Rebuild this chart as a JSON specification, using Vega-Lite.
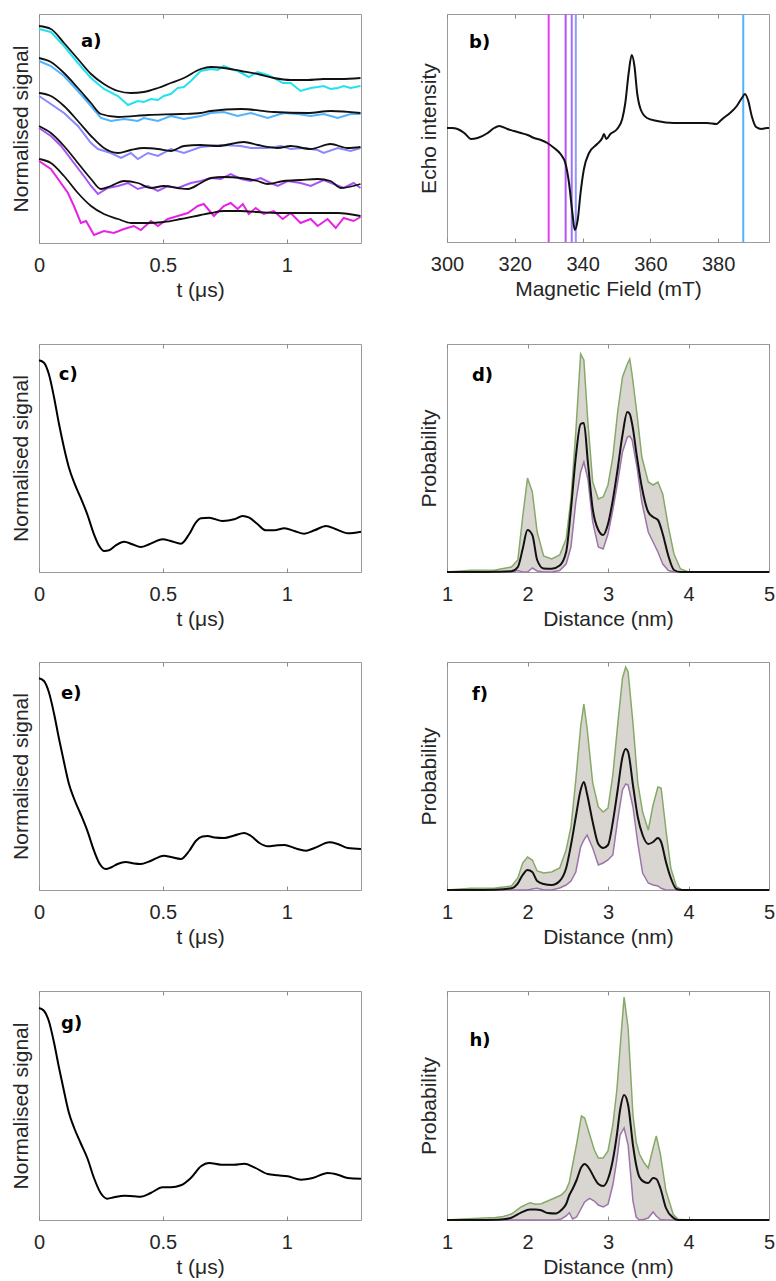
{
"$schema":"https://vega.github.io/schema/vega-lite/v6.json",
"padding":{"left":9,"top":12,"right":0,"bottom":0},
"spacing":42,
"datasets":{
"a_traces":[
{"trace":"1","t":0,"s":214},{"trace":"1","t":0.048,"s":211},{"trace":"1","t":0.101,"s":197},{"trace":"1","t":0.157,"s":180},{"trace":"1","t":0.21,"s":165},{"trace":"1","t":0.262,"s":154},{"trace":"1","t":0.319,"s":147},{"trace":"1","t":0.359,"s":138},{"trace":"1","t":0.399,"s":142},{"trace":"1","t":0.423,"s":141},{"trace":"1","t":0.452,"s":144},{"trace":"1","t":0.48,"s":143},{"trace":"1","t":0.504,"s":147},{"trace":"1","t":0.532,"s":149},{"trace":"1","t":0.56,"s":155},{"trace":"1","t":0.585,"s":156},{"trace":"1","t":0.613,"s":162},{"trace":"1","t":0.653,"s":172},{"trace":"1","t":0.694,"s":174},{"trace":"1","t":0.722,"s":173},{"trace":"1","t":0.746,"s":177},{"trace":"1","t":0.774,"s":174},{"trace":"1","t":0.802,"s":172},{"trace":"1","t":0.847,"s":166},{"trace":"1","t":0.883,"s":171},{"trace":"1","t":0.923,"s":168},{"trace":"1","t":0.948,"s":165},{"trace":"1","t":0.984,"s":160},{"trace":"1","t":1.016,"s":160},{"trace":"1","t":1.056,"s":152},{"trace":"1","t":1.097,"s":155},{"trace":"1","t":1.125,"s":156},{"trace":"1","t":1.149,"s":157},{"trace":"1","t":1.177,"s":154},{"trace":"1","t":1.206,"s":155},{"trace":"1","t":1.23,"s":157},{"trace":"1","t":1.258,"s":155},{"trace":"1","t":1.298,"s":157},
{"trace":"2","t":0,"s":182},{"trace":"2","t":0.048,"s":177},{"trace":"2","t":0.101,"s":167},{"trace":"2","t":0.157,"s":152},{"trace":"2","t":0.21,"s":137},{"trace":"2","t":0.25,"s":125},{"trace":"2","t":0.29,"s":122},{"trace":"2","t":0.343,"s":124},{"trace":"2","t":0.399,"s":122},{"trace":"2","t":0.423,"s":125},{"trace":"2","t":0.48,"s":122},{"trace":"2","t":0.532,"s":127},{"trace":"2","t":0.585,"s":124},{"trace":"2","t":0.653,"s":127},{"trace":"2","t":0.694,"s":130},{"trace":"2","t":0.746,"s":131},{"trace":"2","t":0.802,"s":127},{"trace":"2","t":0.855,"s":130},{"trace":"2","t":0.923,"s":125},{"trace":"2","t":0.988,"s":130},{"trace":"2","t":1.044,"s":129},{"trace":"2","t":1.097,"s":127},{"trace":"2","t":1.149,"s":129},{"trace":"2","t":1.206,"s":125},{"trace":"2","t":1.258,"s":129},{"trace":"2","t":1.298,"s":129},
{"trace":"3","t":0,"s":147},{"trace":"3","t":0.048,"s":139},{"trace":"3","t":0.101,"s":130},{"trace":"3","t":0.157,"s":117},{"trace":"3","t":0.21,"s":100},{"trace":"3","t":0.238,"s":94},{"trace":"3","t":0.29,"s":90},{"trace":"3","t":0.331,"s":85},{"trace":"3","t":0.371,"s":90},{"trace":"3","t":0.399,"s":84},{"trace":"3","t":0.44,"s":90},{"trace":"3","t":0.48,"s":87},{"trace":"3","t":0.532,"s":94},{"trace":"3","t":0.585,"s":90},{"trace":"3","t":0.653,"s":96},{"trace":"3","t":0.694,"s":97},{"trace":"3","t":0.746,"s":98},{"trace":"3","t":0.815,"s":97},{"trace":"3","t":0.855,"s":95},{"trace":"3","t":0.923,"s":95},{"trace":"3","t":0.976,"s":97},{"trace":"3","t":1.016,"s":94},{"trace":"3","t":1.069,"s":95},{"trace":"3","t":1.125,"s":93},{"trace":"3","t":1.149,"s":90},{"trace":"3","t":1.206,"s":95},{"trace":"3","t":1.258,"s":92},{"trace":"3","t":1.298,"s":95},
{"trace":"4","t":0,"s":115},{"trace":"4","t":0.048,"s":107},{"trace":"4","t":0.089,"s":97},{"trace":"4","t":0.141,"s":80},{"trace":"4","t":0.181,"s":67},{"trace":"4","t":0.21,"s":57},{"trace":"4","t":0.238,"s":49},{"trace":"4","t":0.278,"s":55},{"trace":"4","t":0.319,"s":57},{"trace":"4","t":0.359,"s":60},{"trace":"4","t":0.399,"s":54},{"trace":"4","t":0.44,"s":57},{"trace":"4","t":0.48,"s":52},{"trace":"4","t":0.52,"s":57},{"trace":"4","t":0.56,"s":55},{"trace":"4","t":0.613,"s":60},{"trace":"4","t":0.653,"s":62},{"trace":"4","t":0.694,"s":65},{"trace":"4","t":0.734,"s":64},{"trace":"4","t":0.774,"s":69},{"trace":"4","t":0.815,"s":64},{"trace":"4","t":0.855,"s":62},{"trace":"4","t":0.895,"s":65},{"trace":"4","t":0.935,"s":60},{"trace":"4","t":0.964,"s":57},{"trace":"4","t":1.004,"s":62},{"trace":"4","t":1.056,"s":60},{"trace":"4","t":1.097,"s":57},{"trace":"4","t":1.149,"s":63},{"trace":"4","t":1.19,"s":59},{"trace":"4","t":1.23,"s":55},{"trace":"4","t":1.27,"s":60},{"trace":"4","t":1.298,"s":55},
{"trace":"5","t":0,"s":82},{"trace":"5","t":0.048,"s":74},{"trace":"5","t":0.077,"s":64},{"trace":"5","t":0.117,"s":50},{"trace":"5","t":0.141,"s":37},{"trace":"5","t":0.169,"s":20},{"trace":"5","t":0.19,"s":22},{"trace":"5","t":0.222,"s":8},{"trace":"5","t":0.262,"s":12},{"trace":"5","t":0.302,"s":10},{"trace":"5","t":0.343,"s":14},{"trace":"5","t":0.383,"s":17},{"trace":"5","t":0.411,"s":13},{"trace":"5","t":0.452,"s":22},{"trace":"5","t":0.48,"s":17},{"trace":"5","t":0.52,"s":24},{"trace":"5","t":0.56,"s":27},{"trace":"5","t":0.601,"s":30},{"trace":"5","t":0.641,"s":37},{"trace":"5","t":0.665,"s":39},{"trace":"5","t":0.706,"s":27},{"trace":"5","t":0.746,"s":37},{"trace":"5","t":0.774,"s":40},{"trace":"5","t":0.802,"s":34},{"trace":"5","t":0.823,"s":39},{"trace":"5","t":0.847,"s":29},{"trace":"5","t":0.875,"s":35},{"trace":"5","t":0.907,"s":29},{"trace":"5","t":0.948,"s":32},{"trace":"5","t":0.984,"s":24},{"trace":"5","t":1.016,"s":30},{"trace":"5","t":1.056,"s":20},{"trace":"5","t":1.097,"s":24},{"trace":"5","t":1.125,"s":17},{"trace":"5","t":1.165,"s":24},{"trace":"5","t":1.198,"s":15},{"trace":"5","t":1.23,"s":25},{"trace":"5","t":1.27,"s":22},{"trace":"5","t":1.298,"s":26}
],
"a_fits":[
{"trace":"1","t":0,"s":217},{"trace":"1","t":0.048,"s":214},{"trace":"1","t":0.101,"s":200},{"trace":"1","t":0.157,"s":184},{"trace":"1","t":0.21,"s":169},{"trace":"1","t":0.262,"s":159},{"trace":"1","t":0.319,"s":152},{"trace":"1","t":0.371,"s":150},{"trace":"1","t":0.423,"s":151},{"trace":"1","t":0.48,"s":155},{"trace":"1","t":0.532,"s":160},{"trace":"1","t":0.585,"s":165},{"trace":"1","t":0.653,"s":174},{"trace":"1","t":0.694,"s":176},{"trace":"1","t":0.746,"s":175},{"trace":"1","t":0.815,"s":172},{"trace":"1","t":0.883,"s":169},{"trace":"1","t":0.948,"s":165},{"trace":"1","t":1.016,"s":163},{"trace":"1","t":1.085,"s":163},{"trace":"1","t":1.149,"s":164},{"trace":"1","t":1.218,"s":164},{"trace":"1","t":1.298,"s":165},
{"trace":"2","t":0,"s":185},{"trace":"2","t":0.048,"s":181},{"trace":"2","t":0.101,"s":170},{"trace":"2","t":0.157,"s":155},{"trace":"2","t":0.21,"s":140},{"trace":"2","t":0.25,"s":129},{"trace":"2","t":0.319,"s":126},{"trace":"2","t":0.44,"s":128},{"trace":"2","t":0.573,"s":129},{"trace":"2","t":0.653,"s":130},{"trace":"2","t":0.694,"s":132},{"trace":"2","t":0.815,"s":134},{"trace":"2","t":0.948,"s":131},{"trace":"2","t":1.085,"s":130},{"trace":"2","t":1.177,"s":132},{"trace":"2","t":1.298,"s":130},
{"trace":"3","t":0,"s":150},{"trace":"3","t":0.048,"s":147},{"trace":"3","t":0.101,"s":137},{"trace":"3","t":0.157,"s":122},{"trace":"3","t":0.21,"s":107},{"trace":"3","t":0.262,"s":95},{"trace":"3","t":0.319,"s":90},{"trace":"3","t":0.371,"s":93},{"trace":"3","t":0.423,"s":95},{"trace":"3","t":0.48,"s":94},{"trace":"3","t":0.532,"s":92},{"trace":"3","t":0.585,"s":97},{"trace":"3","t":0.653,"s":98},{"trace":"3","t":0.722,"s":97},{"trace":"3","t":0.827,"s":101},{"trace":"3","t":0.883,"s":98},{"trace":"3","t":0.964,"s":95},{"trace":"3","t":1.016,"s":97},{"trace":"3","t":1.097,"s":94},{"trace":"3","t":1.177,"s":99},{"trace":"3","t":1.246,"s":95},{"trace":"3","t":1.298,"s":96},
{"trace":"4","t":0,"s":117},{"trace":"4","t":0.048,"s":110},{"trace":"4","t":0.101,"s":97},{"trace":"4","t":0.157,"s":80},{"trace":"4","t":0.21,"s":64},{"trace":"4","t":0.25,"s":54},{"trace":"4","t":0.29,"s":57},{"trace":"4","t":0.343,"s":62},{"trace":"4","t":0.399,"s":60},{"trace":"4","t":0.452,"s":55},{"trace":"4","t":0.504,"s":57},{"trace":"4","t":0.56,"s":55},{"trace":"4","t":0.601,"s":54},{"trace":"4","t":0.653,"s":60},{"trace":"4","t":0.694,"s":65},{"trace":"4","t":0.746,"s":66},{"trace":"4","t":0.815,"s":65},{"trace":"4","t":0.883,"s":62},{"trace":"4","t":0.923,"s":59},{"trace":"4","t":0.988,"s":62},{"trace":"4","t":1.056,"s":63},{"trace":"4","t":1.125,"s":64},{"trace":"4","t":1.177,"s":62},{"trace":"4","t":1.218,"s":55},{"trace":"4","t":1.298,"s":59},
{"trace":"5","t":0,"s":84},{"trace":"5","t":0.048,"s":80},{"trace":"5","t":0.101,"s":67},{"trace":"5","t":0.157,"s":50},{"trace":"5","t":0.21,"s":37},{"trace":"5","t":0.262,"s":29},{"trace":"5","t":0.319,"s":24},{"trace":"5","t":0.371,"s":20},{"trace":"5","t":0.44,"s":20},{"trace":"5","t":0.504,"s":21},{"trace":"5","t":0.573,"s":24},{"trace":"5","t":0.653,"s":28},{"trace":"5","t":0.694,"s":30},{"trace":"5","t":0.746,"s":32},{"trace":"5","t":0.815,"s":32},{"trace":"5","t":0.883,"s":31},{"trace":"5","t":0.964,"s":30},{"trace":"5","t":1.044,"s":30},{"trace":"5","t":1.125,"s":30},{"trace":"5","t":1.206,"s":30},{"trace":"5","t":1.298,"s":27}
],
"b_spec":[
{"B":300,"v":114},{"B":301.5,"v":114},{"B":303.1,"v":113},{"B":305.1,"v":109},{"B":307.1,"v":103},{"B":309,"v":104},{"B":312,"v":109},{"B":313.9,"v":114},{"B":315.4,"v":116},{"B":317.8,"v":113},{"B":319.8,"v":111},{"B":321.8,"v":109},{"B":323.8,"v":107},{"B":325.7,"v":104},{"B":327.7,"v":102},{"B":329.6,"v":99},{"B":331.6,"v":94},{"B":333.5,"v":88},{"B":335,"v":78},{"B":336,"v":59},{"B":337,"v":29},{"B":337.7,"v":12},{"B":338.6,"v":23},{"B":339.4,"v":49},{"B":340.4,"v":73},{"B":341.9,"v":89},{"B":344.3,"v":98},{"B":345.8,"v":104},{"B":346.3,"v":108},{"B":347,"v":103},{"B":348.2,"v":108},{"B":350.2,"v":113},{"B":351.7,"v":123},{"B":352.6,"v":139},{"B":353.6,"v":169},{"B":354.5,"v":187},{"B":355.3,"v":176},{"B":356.1,"v":149},{"B":357.1,"v":133},{"B":359,"v":124},{"B":362,"v":121},{"B":366.9,"v":119},{"B":371.8,"v":119},{"B":376.7,"v":119},{"B":379.6,"v":118},{"B":380.6,"v":121},{"B":381.6,"v":124},{"B":383.5,"v":129},{"B":385.5,"v":136},{"B":387,"v":144},{"B":387.9,"v":148},{"B":388.9,"v":141},{"B":389.9,"v":126},{"B":391.2,"v":115},{"B":392.8,"v":113},{"B":394.3,"v":114},{"B":395,"v":114}
],
"b_lines":[
{"B":330,"id":"L1"},{"B":335,"id":"L2"},{"B":336.8,"id":"L3"},{"B":338,"id":"L4"},{"B":387.4,"id":"L5"}
],
"c":[
{"t":0,"s":211.7},{"t":0.02,"s":209.3},{"t":0.04,"s":197.7},{"t":0.061,"s":174.3},{"t":0.081,"s":147.7},{"t":0.101,"s":124.3},{"t":0.121,"s":104.3},{"t":0.142,"s":89.3},{"t":0.168,"s":74.3},{"t":0.195,"s":57.7},{"t":0.222,"s":37.7},{"t":0.243,"s":26},{"t":0.263,"s":21},{"t":0.283,"s":21.7},{"t":0.31,"s":26.7},{"t":0.344,"s":30.3},{"t":0.377,"s":27.7},{"t":0.411,"s":25},{"t":0.445,"s":27.7},{"t":0.499,"s":32.7},{"t":0.532,"s":31},{"t":0.573,"s":28.3},{"t":0.606,"s":37.7},{"t":0.633,"s":49.3},{"t":0.654,"s":53.7},{"t":0.687,"s":54.3},{"t":0.741,"s":51},{"t":0.788,"s":52.7},{"t":0.822,"s":56},{"t":0.849,"s":54.3},{"t":0.883,"s":47.7},{"t":0.916,"s":41.7},{"t":0.95,"s":41.7},{"t":0.991,"s":43.7},{"t":1.031,"s":41},{"t":1.071,"s":38.3},{"t":1.112,"s":41.7},{"t":1.159,"s":46},{"t":1.199,"s":42.7},{"t":1.247,"s":38.7},{"t":1.3,"s":40.3}
],
"e":[
{"t":0,"s":211.7},{"t":0.02,"s":209},{"t":0.04,"s":197.7},{"t":0.061,"s":176},{"t":0.081,"s":151},{"t":0.101,"s":127.7},{"t":0.121,"s":106},{"t":0.142,"s":91},{"t":0.168,"s":76},{"t":0.195,"s":59.3},{"t":0.222,"s":39.3},{"t":0.243,"s":27},{"t":0.27,"s":21},{"t":0.29,"s":22.5},{"t":0.317,"s":26},{"t":0.35,"s":28},{"t":0.384,"s":26.5},{"t":0.411,"s":26},{"t":0.445,"s":28.5},{"t":0.505,"s":34.3},{"t":0.532,"s":33},{"t":0.573,"s":31},{"t":0.606,"s":39},{"t":0.633,"s":49},{"t":0.66,"s":53.5},{"t":0.681,"s":54},{"t":0.708,"s":52.5},{"t":0.748,"s":52},{"t":0.788,"s":54.5},{"t":0.829,"s":57},{"t":0.856,"s":54},{"t":0.89,"s":47},{"t":0.923,"s":43.7},{"t":0.964,"s":44.7},{"t":0.991,"s":45},{"t":1.031,"s":42},{"t":1.078,"s":39.3},{"t":1.112,"s":42},{"t":1.173,"s":47.7},{"t":1.206,"s":46},{"t":1.247,"s":42},{"t":1.3,"s":41}
],
"g":[
{"t":0,"s":212},{"t":0.02,"s":209.3},{"t":0.04,"s":198.7},{"t":0.061,"s":177},{"t":0.081,"s":152},{"t":0.101,"s":128.7},{"t":0.121,"s":107},{"t":0.142,"s":92},{"t":0.168,"s":77},{"t":0.195,"s":62},{"t":0.222,"s":42},{"t":0.249,"s":27},{"t":0.276,"s":21.3},{"t":0.303,"s":22.7},{"t":0.344,"s":24.3},{"t":0.384,"s":23.7},{"t":0.411,"s":23.3},{"t":0.451,"s":27},{"t":0.499,"s":32.7},{"t":0.532,"s":32.7},{"t":0.573,"s":34.7},{"t":0.613,"s":42},{"t":0.654,"s":53.7},{"t":0.687,"s":57},{"t":0.735,"s":55.3},{"t":0.788,"s":55.3},{"t":0.829,"s":56.3},{"t":0.869,"s":52.7},{"t":0.923,"s":46},{"t":0.964,"s":44.7},{"t":1.004,"s":43.7},{"t":1.058,"s":40.3},{"t":1.105,"s":42},{"t":1.166,"s":47},{"t":1.206,"s":45.3},{"t":1.247,"s":42},{"t":1.3,"s":41.3}
],
"d":[
{"r":1.0,"hi":0,"m":0,"lo":0},{"r":1.3,"hi":1.7,"m":0,"lo":0},{"r":1.6,"hi":2,"m":0.3,"lo":0},{"r":1.8,"hi":5,"m":0.7,"lo":0},{"r":1.88,"hi":12,"m":5,"lo":1.5},{"r":1.94,"hi":55,"m":23,"lo":0},{"r":2.0,"hi":94,"m":42,"lo":0},{"r":2.06,"hi":80,"m":37,"lo":4},{"r":2.12,"hi":40,"m":12,"lo":1},{"r":2.2,"hi":16,"m":3.5,"lo":0},{"r":2.3,"hi":13,"m":3.3,"lo":0},{"r":2.4,"hi":17,"m":6.5,"lo":1.5},{"r":2.48,"hi":33,"m":20,"lo":8},{"r":2.54,"hi":73,"m":63,"lo":25},{"r":2.6,"hi":140,"m":115,"lo":70},{"r":2.66,"hi":218,"m":148,"lo":100},{"r":2.7,"hi":212,"m":149,"lo":110},{"r":2.75,"hi":150,"m":110,"lo":93},{"r":2.81,"hi":90,"m":63,"lo":50},{"r":2.88,"hi":73,"m":42,"lo":25},{"r":2.94,"hi":75,"m":37,"lo":23},{"r":3.0,"hi":87,"m":48,"lo":38},{"r":3.06,"hi":115,"m":72,"lo":62},{"r":3.12,"hi":160,"m":103,"lo":90},{"r":3.18,"hi":195,"m":137,"lo":120},{"r":3.24,"hi":208,"m":160,"lo":135},{"r":3.27,"hi":213,"m":158,"lo":136},{"r":3.3,"hi":197,"m":148,"lo":132},{"r":3.36,"hi":158,"m":115,"lo":105},{"r":3.42,"hi":115,"m":85,"lo":70},{"r":3.5,"hi":90,"m":60,"lo":40},{"r":3.56,"hi":87,"m":55,"lo":30},{"r":3.62,"hi":90,"m":52,"lo":20},{"r":3.68,"hi":78,"m":38,"lo":8},{"r":3.75,"hi":45,"m":16,"lo":1.5},{"r":3.82,"hi":18,"m":2,"lo":0},{"r":3.9,"hi":3,"m":0,"lo":0},{"r":4.0,"hi":0,"m":0,"lo":0},{"r":5.0,"hi":0,"m":0,"lo":0}
],
"f":[
{"r":1.0,"hi":0,"m":0,"lo":0},{"r":1.3,"hi":1.7,"m":0,"lo":0},{"r":1.6,"hi":2,"m":0.3,"lo":0},{"r":1.8,"hi":4,"m":1.7,"lo":0},{"r":1.88,"hi":12,"m":6.7,"lo":0},{"r":1.94,"hi":27,"m":15,"lo":0},{"r":2.0,"hi":33,"m":20,"lo":0},{"r":2.06,"hi":30,"m":18,"lo":1},{"r":2.12,"hi":19,"m":9,"lo":1.7},{"r":2.2,"hi":17,"m":6,"lo":0},{"r":2.3,"hi":18,"m":5,"lo":0},{"r":2.4,"hi":22,"m":9,"lo":2},{"r":2.48,"hi":40,"m":22,"lo":5},{"r":2.54,"hi":63,"m":45,"lo":9},{"r":2.6,"hi":110,"m":73,"lo":18},{"r":2.66,"hi":163,"m":100,"lo":43},{"r":2.7,"hi":186,"m":108,"lo":50},{"r":2.74,"hi":162,"m":96,"lo":55},{"r":2.81,"hi":107,"m":68,"lo":42},{"r":2.88,"hi":83,"m":46,"lo":25},{"r":2.94,"hi":78,"m":42,"lo":27},{"r":3.0,"hi":82,"m":45,"lo":30},{"r":3.06,"hi":115,"m":68,"lo":35},{"r":3.12,"hi":165,"m":100,"lo":70},{"r":3.18,"hi":212,"m":133,"lo":100},{"r":3.22,"hi":223,"m":141,"lo":106},{"r":3.25,"hi":218,"m":138,"lo":105},{"r":3.31,"hi":167,"m":105,"lo":83},{"r":3.37,"hi":107,"m":73,"lo":47},{"r":3.43,"hi":78,"m":55,"lo":17},{"r":3.5,"hi":60,"m":46,"lo":7},{"r":3.56,"hi":85,"m":48,"lo":5},{"r":3.62,"hi":103,"m":52,"lo":4},{"r":3.66,"hi":102,"m":48,"lo":1.7},{"r":3.72,"hi":60,"m":28,"lo":0},{"r":3.78,"hi":22,"m":12,"lo":0},{"r":3.85,"hi":3.3,"m":1,"lo":0},{"r":3.92,"hi":0,"m":0,"lo":0},{"r":5.0,"hi":0,"m":0,"lo":0}
],
"h":[
{"r":1.0,"hi":0,"m":0,"lo":0},{"r":1.2,"hi":1,"m":0,"lo":0},{"r":1.4,"hi":1.7,"m":0,"lo":0},{"r":1.6,"hi":2.5,"m":0.3,"lo":0},{"r":1.7,"hi":3.5,"m":0.7,"lo":0},{"r":1.8,"hi":6,"m":2.3,"lo":0},{"r":1.92,"hi":13,"m":7.3,"lo":0},{"r":2.03,"hi":17.3,"m":10.5,"lo":0},{"r":2.1,"hi":15.7,"m":10.5,"lo":0},{"r":2.17,"hi":16.3,"m":9.7,"lo":0},{"r":2.25,"hi":19,"m":7,"lo":0},{"r":2.35,"hi":22.5,"m":6.5,"lo":0},{"r":2.42,"hi":25,"m":10,"lo":1},{"r":2.48,"hi":30,"m":16,"lo":4},{"r":2.52,"hi":38,"m":25,"lo":7.3},{"r":2.56,"hi":55,"m":31,"lo":1},{"r":2.61,"hi":76,"m":40,"lo":3},{"r":2.67,"hi":104,"m":53,"lo":12},{"r":2.71,"hi":102,"m":56,"lo":18},{"r":2.77,"hi":86,"m":51,"lo":21.7},{"r":2.83,"hi":70,"m":42,"lo":19},{"r":2.88,"hi":62,"m":36,"lo":15},{"r":2.94,"hi":62,"m":34,"lo":13},{"r":3.0,"hi":69,"m":41,"lo":15.7},{"r":3.06,"hi":95,"m":60,"lo":35},{"r":3.11,"hi":130,"m":85,"lo":60},{"r":3.15,"hi":172,"m":110,"lo":85},{"r":3.2,"hi":223,"m":125,"lo":92},{"r":3.25,"hi":192,"m":115,"lo":75},{"r":3.31,"hi":105,"m":75,"lo":19},{"r":3.35,"hi":78,"m":55,"lo":3},{"r":3.39,"hi":66,"m":43,"lo":0},{"r":3.45,"hi":57,"m":38,"lo":0.7},{"r":3.5,"hi":52,"m":37,"lo":2},{"r":3.56,"hi":72,"m":42,"lo":8},{"r":3.6,"hi":84,"m":41,"lo":4},{"r":3.65,"hi":66,"m":32,"lo":0.5},{"r":3.72,"hi":29,"m":12,"lo":0},{"r":3.81,"hi":5.7,"m":2.3,"lo":0},{"r":3.87,"hi":0.7,"m":0,"lo":0},{"r":4.0,"hi":0,"m":0,"lo":0},{"r":5.0,"hi":0,"m":0,"lo":0}
]
},
"vconcat":[
{"hconcat":[
 {"width":322,"height":229,
  "layer":[
   {"data":{"name":"a_traces"},"mark":{"type":"line","strokeWidth":2},
    "encoding":{"x":{"field":"t","type":"quantitative","scale":{"domain":[0,1.3],"nice":false,"zero":false},"axis":{"values":[0,0.5,1],"format":"~g","title":"t (μs)"}},
     "y":{"field":"s","type":"quantitative","scale":{"domain":[0,229],"nice":false,"zero":false},"axis":{"title":"Normalised signal"}},
     "color":{"field":"trace","type":"nominal","scale":{"domain":["1","2","3","4","5"],"range":["#22e2f0","#4fb4ff","#8a88ff","#a654f6","#e622e6"]},"legend":null}}},
   {"data":{"name":"a_fits"},"mark":{"type":"line","interpolate":"monotone","color":"#111111","strokeWidth":1.8},
    "encoding":{"x":{"field":"t","type":"quantitative","scale":{"domain":[0,1.3],"nice":false,"zero":false},"axis":null},
     "y":{"field":"s","type":"quantitative","scale":{"domain":[0,229],"nice":false,"zero":false},"axis":null},
     "detail":{"field":"trace","type":"nominal"}}},
   {"data":{"values":[{"t":0.17,"s":196,"label":"a)"}]},"mark":{"type":"text","font":"DejaVu Sans","fontWeight":"bold","fontSize":18,"align":"left","baseline":"alphabetic","color":"#000000"},
    "encoding":{"x":{"field":"t","type":"quantitative","scale":{"domain":[0,1.3],"nice":false,"zero":false},"axis":{"orient":"top","values":[0,0.5,1],"labels":false,"title":null}},
     "y":{"field":"s","type":"quantitative","scale":{"domain":[0,229],"nice":false,"zero":false},"axis":null},
     "text":{"field":"label"}}}
  ],
  "resolve":{"axis":{"x":"independent","y":"independent"}}},
 {"width":322,"height":228,
  "layer":[
   {"data":{"name":"b_lines"},"mark":{"type":"rule","strokeWidth":2},
    "encoding":{"x":{"field":"B","type":"quantitative","scale":{"domain":[300,395],"nice":false,"zero":false},"axis":{"values":[300,320,340,360,380],"title":"Magnetic Field (mT)"}},
     "color":{"field":"id","type":"nominal","scale":{"domain":["L1","L2","L3","L4","L5"],"range":["#e43ef0","#b055f7","#9a72ff","#9595ff","#4fb4ff"]},"legend":null}}},
   {"data":{"name":"b_spec"},"mark":{"type":"line","interpolate":"monotone","color":"#111111","strokeWidth":2},
    "encoding":{"x":{"field":"B","type":"quantitative","scale":{"domain":[300,395],"nice":false,"zero":false},"axis":null},
     "y":{"field":"v","type":"quantitative","scale":{"domain":[0,228],"nice":false,"zero":false},"axis":{"title":"Echo intensity"}}}},
   {"data":{"values":[{"B":306.5,"v":194,"label":"b)"}]},"mark":{"type":"text","font":"DejaVu Sans","fontWeight":"bold","fontSize":18,"align":"left","baseline":"alphabetic","color":"#000000"},
    "encoding":{"x":{"field":"B","type":"quantitative","scale":{"domain":[300,395],"nice":false,"zero":false},"axis":{"orient":"top","values":[300,320,340,360,380],"labels":false,"title":null}},
     "y":{"field":"v","type":"quantitative","scale":{"domain":[0,228],"nice":false,"zero":false},"axis":null},
     "text":{"field":"label"}}}
  ],
  "resolve":{"axis":{"x":"independent","y":"independent"}}}
],"spacing":51,"resolve":{"scale":{"color":"independent"}}},
{"vconcat":[
 {"hconcat":[
  {"width":322,"height":228,
   "layer":[
    {"data":{"name":"c"},"mark":{"type":"line","interpolate":"monotone","color":"#000000","strokeWidth":2},
     "encoding":{"x":{"field":"t","type":"quantitative","scale":{"domain":[0,1.3],"nice":false,"zero":false},"axis":{"values":[0,0.5,1],"format":"~g","title":"t (μs)"}},
      "y":{"field":"s","type":"quantitative","scale":{"domain":[0,228],"nice":false,"zero":false},"axis":{"title":"Normalised signal"}}}},
    {"data":{"values":[{"t":0.08,"s":192,"label":"c)"}]},"mark":{"type":"text","font":"DejaVu Sans","fontWeight":"bold","fontSize":18,"align":"left","baseline":"alphabetic","color":"#000000"},
     "encoding":{"x":{"field":"t","type":"quantitative","scale":{"domain":[0,1.3],"nice":false,"zero":false},"axis":{"orient":"top","values":[0,0.5,1],"labels":false,"title":null}},
      "y":{"field":"s","type":"quantitative","scale":{"domain":[0,228],"nice":false,"zero":false},"axis":null},
      "text":{"field":"label"}}}
   ],
   "resolve":{"axis":{"x":"independent","y":"independent"}}},
  {"width":322,"height":228,
   "layer":[
    {"data":{"name":"d"},"mark":{"type":"area","color":"#d9d6d2","opacity":1},
     "encoding":{"x":{"field":"r","type":"quantitative","scale":{"domain":[1,5],"nice":false,"zero":false},"axis":{"values":[1,2,3,4,5],"format":"d","title":"Distance (nm)"}},
      "y":{"field":"hi","type":"quantitative","scale":{"domain":[0,228],"nice":false,"zero":false},"axis":{"title":"Probability"}},
      "y2":{"field":"lo"}}},
    {"data":{"name":"d"},"mark":{"type":"line","color":"#86a966","strokeWidth":1.5},
     "encoding":{"x":{"field":"r","type":"quantitative","scale":{"domain":[1,5],"nice":false,"zero":false},"axis":null},
      "y":{"field":"hi","type":"quantitative","scale":{"domain":[0,228],"nice":false,"zero":false},"axis":null}}},
    {"data":{"name":"d"},"mark":{"type":"line","color":"#9c74aa","strokeWidth":1.5},
     "encoding":{"x":{"field":"r","type":"quantitative","scale":{"domain":[1,5],"nice":false,"zero":false},"axis":null},
      "y":{"field":"lo","type":"quantitative","scale":{"domain":[0,228],"nice":false,"zero":false},"axis":null}}},
    {"data":{"name":"d"},"mark":{"type":"line","interpolate":"monotone","color":"#111111","strokeWidth":2},
     "encoding":{"x":{"field":"r","type":"quantitative","scale":{"domain":[1,5],"nice":false,"zero":false},"axis":null},
      "y":{"field":"m","type":"quantitative","scale":{"domain":[0,228],"nice":false,"zero":false},"axis":null}}},
    {"data":{"values":[{"r":1.31,"v":191,"label":"d)"}]},"mark":{"type":"text","font":"DejaVu Sans","fontWeight":"bold","fontSize":18,"align":"left","baseline":"alphabetic","color":"#000000"},
     "encoding":{"x":{"field":"r","type":"quantitative","scale":{"domain":[1,5],"nice":false,"zero":false},"axis":{"orient":"top","values":[1,2,3,4,5],"labels":false,"title":null}},
      "y":{"field":"v","type":"quantitative","scale":{"domain":[0,228],"nice":false,"zero":false},"axis":null},
      "text":{"field":"label"}}}
   ],
   "resolve":{"axis":{"x":"independent","y":"independent"}}}
 ],"spacing":51},
 {"hconcat":[
  {"width":322,"height":228,
   "layer":[
    {"data":{"name":"e"},"mark":{"type":"line","interpolate":"monotone","color":"#000000","strokeWidth":2},
     "encoding":{"x":{"field":"t","type":"quantitative","scale":{"domain":[0,1.3],"nice":false,"zero":false},"axis":{"values":[0,0.5,1],"format":"~g","title":"t (μs)"}},
      "y":{"field":"s","type":"quantitative","scale":{"domain":[0,228],"nice":false,"zero":false},"axis":{"title":"Normalised signal"}}}},
    {"data":{"values":[{"t":0.089,"s":191,"label":"e)"}]},"mark":{"type":"text","font":"DejaVu Sans","fontWeight":"bold","fontSize":18,"align":"left","baseline":"alphabetic","color":"#000000"},
     "encoding":{"x":{"field":"t","type":"quantitative","scale":{"domain":[0,1.3],"nice":false,"zero":false},"axis":{"orient":"top","values":[0,0.5,1],"labels":false,"title":null}},
      "y":{"field":"s","type":"quantitative","scale":{"domain":[0,228],"nice":false,"zero":false},"axis":null},
      "text":{"field":"label"}}}
   ],
   "resolve":{"axis":{"x":"independent","y":"independent"}}},
  {"width":322,"height":228,
   "layer":[
    {"data":{"name":"f"},"mark":{"type":"area","color":"#d9d6d2","opacity":1},
     "encoding":{"x":{"field":"r","type":"quantitative","scale":{"domain":[1,5],"nice":false,"zero":false},"axis":{"values":[1,2,3,4,5],"format":"d","title":"Distance (nm)"}},
      "y":{"field":"hi","type":"quantitative","scale":{"domain":[0,228],"nice":false,"zero":false},"axis":{"title":"Probability"}},
      "y2":{"field":"lo"}}},
    {"data":{"name":"f"},"mark":{"type":"line","color":"#86a966","strokeWidth":1.5},
     "encoding":{"x":{"field":"r","type":"quantitative","scale":{"domain":[1,5],"nice":false,"zero":false},"axis":null},
      "y":{"field":"hi","type":"quantitative","scale":{"domain":[0,228],"nice":false,"zero":false},"axis":null}}},
    {"data":{"name":"f"},"mark":{"type":"line","color":"#9c74aa","strokeWidth":1.5},
     "encoding":{"x":{"field":"r","type":"quantitative","scale":{"domain":[1,5],"nice":false,"zero":false},"axis":null},
      "y":{"field":"lo","type":"quantitative","scale":{"domain":[0,228],"nice":false,"zero":false},"axis":null}}},
    {"data":{"name":"f"},"mark":{"type":"line","interpolate":"monotone","color":"#111111","strokeWidth":2},
     "encoding":{"x":{"field":"r","type":"quantitative","scale":{"domain":[1,5],"nice":false,"zero":false},"axis":null},
      "y":{"field":"m","type":"quantitative","scale":{"domain":[0,228],"nice":false,"zero":false},"axis":null}}},
    {"data":{"values":[{"r":1.31,"v":190,"label":"f)"}]},"mark":{"type":"text","font":"DejaVu Sans","fontWeight":"bold","fontSize":18,"align":"left","baseline":"alphabetic","color":"#000000"},
     "encoding":{"x":{"field":"r","type":"quantitative","scale":{"domain":[1,5],"nice":false,"zero":false},"axis":{"orient":"top","values":[1,2,3,4,5],"labels":false,"title":null}},
      "y":{"field":"v","type":"quantitative","scale":{"domain":[0,228],"nice":false,"zero":false},"axis":null},
      "text":{"field":"label"}}}
   ],
   "resolve":{"axis":{"x":"independent","y":"independent"}}}
 ],"spacing":51}
],"spacing":31},
{"hconcat":[
 {"width":322,"height":229,
  "layer":[
   {"data":{"name":"g"},"mark":{"type":"line","interpolate":"monotone","color":"#000000","strokeWidth":2},
    "encoding":{"x":{"field":"t","type":"quantitative","scale":{"domain":[0,1.3],"nice":false,"zero":false},"axis":{"values":[0,0.5,1],"format":"~g","title":"t (μs)"}},
     "y":{"field":"s","type":"quantitative","scale":{"domain":[0,229],"nice":false,"zero":false},"axis":{"title":"Normalised signal"}}}},
   {"data":{"values":[{"t":0.089,"s":191,"label":"g)"}]},"mark":{"type":"text","font":"DejaVu Sans","fontWeight":"bold","fontSize":18,"align":"left","baseline":"alphabetic","color":"#000000"},
    "encoding":{"x":{"field":"t","type":"quantitative","scale":{"domain":[0,1.3],"nice":false,"zero":false},"axis":{"orient":"top","values":[0,0.5,1],"labels":false,"title":null}},
     "y":{"field":"s","type":"quantitative","scale":{"domain":[0,229],"nice":false,"zero":false},"axis":null},
     "text":{"field":"label"}}}
  ],
  "resolve":{"axis":{"x":"independent","y":"independent"}}},
 {"width":322,"height":229,
  "layer":[
   {"data":{"name":"h"},"mark":{"type":"area","color":"#d9d6d2","opacity":1},
    "encoding":{"x":{"field":"r","type":"quantitative","scale":{"domain":[1,5],"nice":false,"zero":false},"axis":{"values":[1,2,3,4,5],"format":"d","title":"Distance (nm)"}},
     "y":{"field":"hi","type":"quantitative","scale":{"domain":[0,229],"nice":false,"zero":false},"axis":{"title":"Probability"}},
     "y2":{"field":"lo"}}},
   {"data":{"name":"h"},"mark":{"type":"line","color":"#86a966","strokeWidth":1.5},
    "encoding":{"x":{"field":"r","type":"quantitative","scale":{"domain":[1,5],"nice":false,"zero":false},"axis":null},
     "y":{"field":"hi","type":"quantitative","scale":{"domain":[0,229],"nice":false,"zero":false},"axis":null}}},
   {"data":{"name":"h"},"mark":{"type":"line","color":"#9c74aa","strokeWidth":1.5},
    "encoding":{"x":{"field":"r","type":"quantitative","scale":{"domain":[1,5],"nice":false,"zero":false},"axis":null},
     "y":{"field":"lo","type":"quantitative","scale":{"domain":[0,229],"nice":false,"zero":false},"axis":null}}},
   {"data":{"name":"h"},"mark":{"type":"line","interpolate":"monotone","color":"#111111","strokeWidth":2},
    "encoding":{"x":{"field":"r","type":"quantitative","scale":{"domain":[1,5],"nice":false,"zero":false},"axis":null},
     "y":{"field":"m","type":"quantitative","scale":{"domain":[0,229],"nice":false,"zero":false},"axis":null}}},
   {"data":{"values":[{"r":1.28,"v":174,"label":"h)"}]},"mark":{"type":"text","font":"DejaVu Sans","fontWeight":"bold","fontSize":18,"align":"left","baseline":"alphabetic","color":"#000000"},
    "encoding":{"x":{"field":"r","type":"quantitative","scale":{"domain":[1,5],"nice":false,"zero":false},"axis":{"orient":"top","values":[1,2,3,4,5],"labels":false,"title":null}},
     "y":{"field":"v","type":"quantitative","scale":{"domain":[0,229],"nice":false,"zero":false},"axis":null},
     "text":{"field":"label"}}}
  ],
  "resolve":{"axis":{"x":"independent","y":"independent"}}}
],"spacing":51}
],
"config":{
 "font":"Liberation Sans",
 "background":"#ffffff",
 "view":{"stroke":"#9a9a9a","strokeWidth":1},
 "axis":{"domain":false,"grid":false,"labelFont":"Liberation Sans","labelFontSize":20,"labelColor":"#262626","labelFlush":false,"titleFont":"Liberation Sans","titleFontSize":21,"titleFontWeight":"normal","titleColor":"#262626","tickColor":"#8a8a8a","tickSize":-4,"labelPadding":16,"titlePadding":4},
 "axisY":{"ticks":false,"labels":false,"titlePadding":8}
}
}
